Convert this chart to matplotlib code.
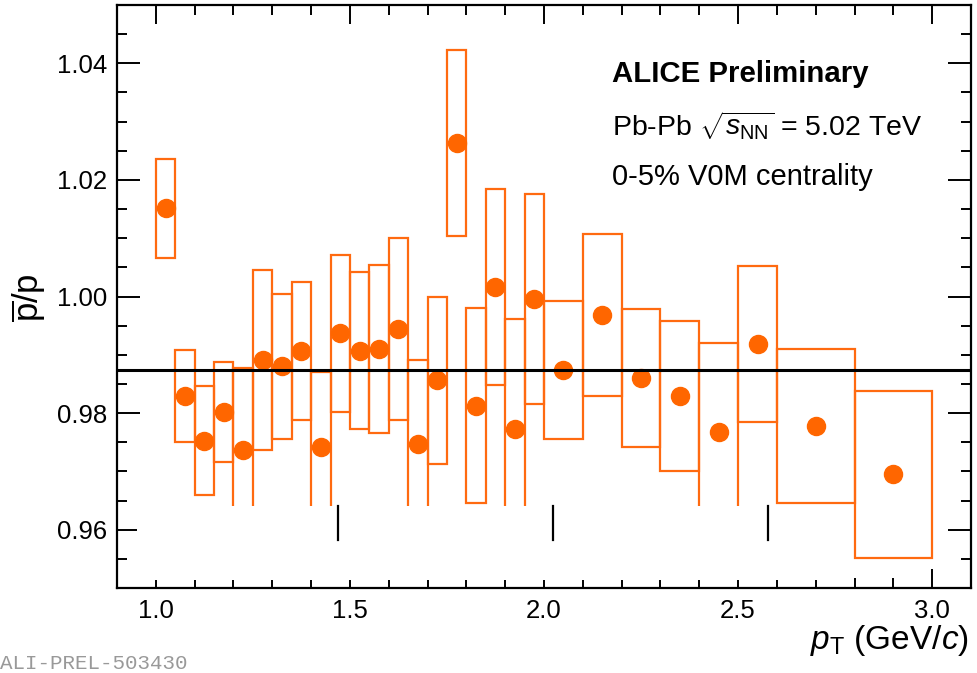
import matplotlib
matplotlib.use("Agg")
import matplotlib.pyplot as plt
from matplotlib.patches import Rectangle
from matplotlib.ticker import MultipleLocator

plt.rcParams['font.family'] = ['Liberation Sans', 'DejaVu Sans']
plt.rcParams['mathtext.fontset'] = 'custom'
plt.rcParams['mathtext.rm'] = 'Liberation Sans'
plt.rcParams['mathtext.it'] = 'Liberation Sans:italic'
plt.rcParams['mathtext.bf'] = 'Liberation Sans:bold'

# ---- data ----
bin_lo = [1.00, 1.05, 1.10, 1.15, 1.20, 1.25, 1.30, 1.35, 1.40, 1.45,
          1.50, 1.55, 1.60, 1.65, 1.70, 1.75, 1.80, 1.85, 1.90, 1.95,
          2.0, 2.1, 2.2, 2.3, 2.4, 2.5, 2.6, 2.8]
bin_hi = [1.05, 1.10, 1.15, 1.20, 1.25, 1.30, 1.35, 1.40, 1.45, 1.50,
          1.55, 1.60, 1.65, 1.70, 1.75, 1.80, 1.85, 1.90, 1.95, 2.00,
          2.1, 2.2, 2.3, 2.4, 2.5, 2.6, 2.8, 3.0]
ratio = [1.0151, 0.9829, 0.9753, 0.9802, 0.9736, 0.9891, 0.9880, 0.9907, 0.9742, 0.9937,
         0.9907, 0.9910, 0.9945, 0.9747, 0.9856, 1.0263, 0.9813, 1.0016, 0.9773, 0.9995,
         0.9874, 0.9969, 0.9860, 0.9829, 0.9768, 0.9919, 0.9778, 0.9695]
sys_err = [0.0085, 0.0079, 0.0094, 0.0086, 0.0142, 0.0154, 0.0125, 0.0118, 0.0128, 0.0135,
           0.0135, 0.0144, 0.0156, 0.0144, 0.0143, 0.0160, 0.0167, 0.0168, 0.0189, 0.0180,
           0.0118, 0.0139, 0.0119, 0.0129, 0.0153, 0.0134, 0.0132, 0.0143]
average = 0.9874

xticks = [1.0, 1.5, 2.0, 2.5, 3.0]
yticks = [0.96, 0.98, 1.00, 1.02, 1.04]

orange = '#FF6600'

fig = plt.figure(figsize=(9.77, 6.73), dpi=100)
ax = fig.add_axes([117/977, 1-588/673, (971-117)/977, (588-5)/673])

centers = [(a + b) / 2 for a, b in zip(bin_lo, bin_hi)]
widths = [b - a for a, b in zip(bin_lo, bin_hi)]
bottoms = [v - s for v, s in zip(ratio, sys_err)]
heights = [2 * s for s in sys_err]

ax.bar(bin_lo, heights, bottom=bottoms, width=widths, align='edge',
       fill=False, edgecolor='#FF6A10', linewidth=1.6, zorder=1)
ax.plot(centers, ratio, 'o', ms=13, color=orange, mec=orange, zorder=2)
ax.axhline(average, color='black', lw=2.2, zorder=2)

ax.set_xlim(0.9, 3.1)
ax.set_ylim(0.95, 1.05)
ax.set_xticks(xticks)
ax.set_xticklabels([f"{t:.1f}" for t in xticks])
ax.set_yticks(yticks)
ax.set_yticklabels([f"{t:.2f}" for t in yticks])
ax.xaxis.set_minor_locator(MultipleLocator(0.1))
ax.yaxis.set_minor_locator(MultipleLocator(0.005))

ax.tick_params(which='both', direction='in', top=True, right=True, width=1.4,
               labelsize=18.5, colors='black')
ax.tick_params(axis='x', which='major', length=13.7, pad=8)
ax.tick_params(axis='x', which='minor', length=7.2)
ax.tick_params(axis='y', which='major', length=16.5, pad=7)
ax.tick_params(axis='y', which='minor', length=7.2)
for sp in ax.spines.values():
    sp.set_linewidth(1.6)

# masked region in the original image
ax.add_patch(Rectangle((20/854, 8/583), (853-137)/854, 74/583, transform=ax.transAxes,
                       facecolor='white', edgecolor='none', zorder=3))
for fx in [338, 553, 768]:
    ax.plot([(fx-117)/854]*2, [48/583, 82/583], transform=ax.transAxes,
            color='black', lw=1.6, zorder=4, clip_on=False)

fig.text(969/977, 1-649/673, r"$p_{\rm T}$ (GeV/$c$)", ha='right', va='baseline',
         fontsize=24)
fig.text(29/977, 1-298/673, r"$\overline{\rm p}$/p", rotation=90,
         ha='center', va='center', fontsize=25)

fig.text(612/977, 1-82/673, "ALICE Preliminary", fontsize=21.2, fontweight='bold',
         ha='left', va='baseline')
fig.text(612/977, 1-135/673, r"Pb-Pb $\sqrt{s_{\rm NN}}$ = 5.02 TeV", fontsize=20.5,
         ha='left', va='baseline')
fig.text(612/977, 1-185/673, "0-5% V0M centrality", fontsize=21,
         ha='left', va='baseline')

fig.text(0.5/977, 1-669/673, "ALI-PREL-503430", fontsize=15, family='Liberation Mono',
         color='#999999', ha='left', va='baseline')

fig.savefig("out.png", dpi=100)
